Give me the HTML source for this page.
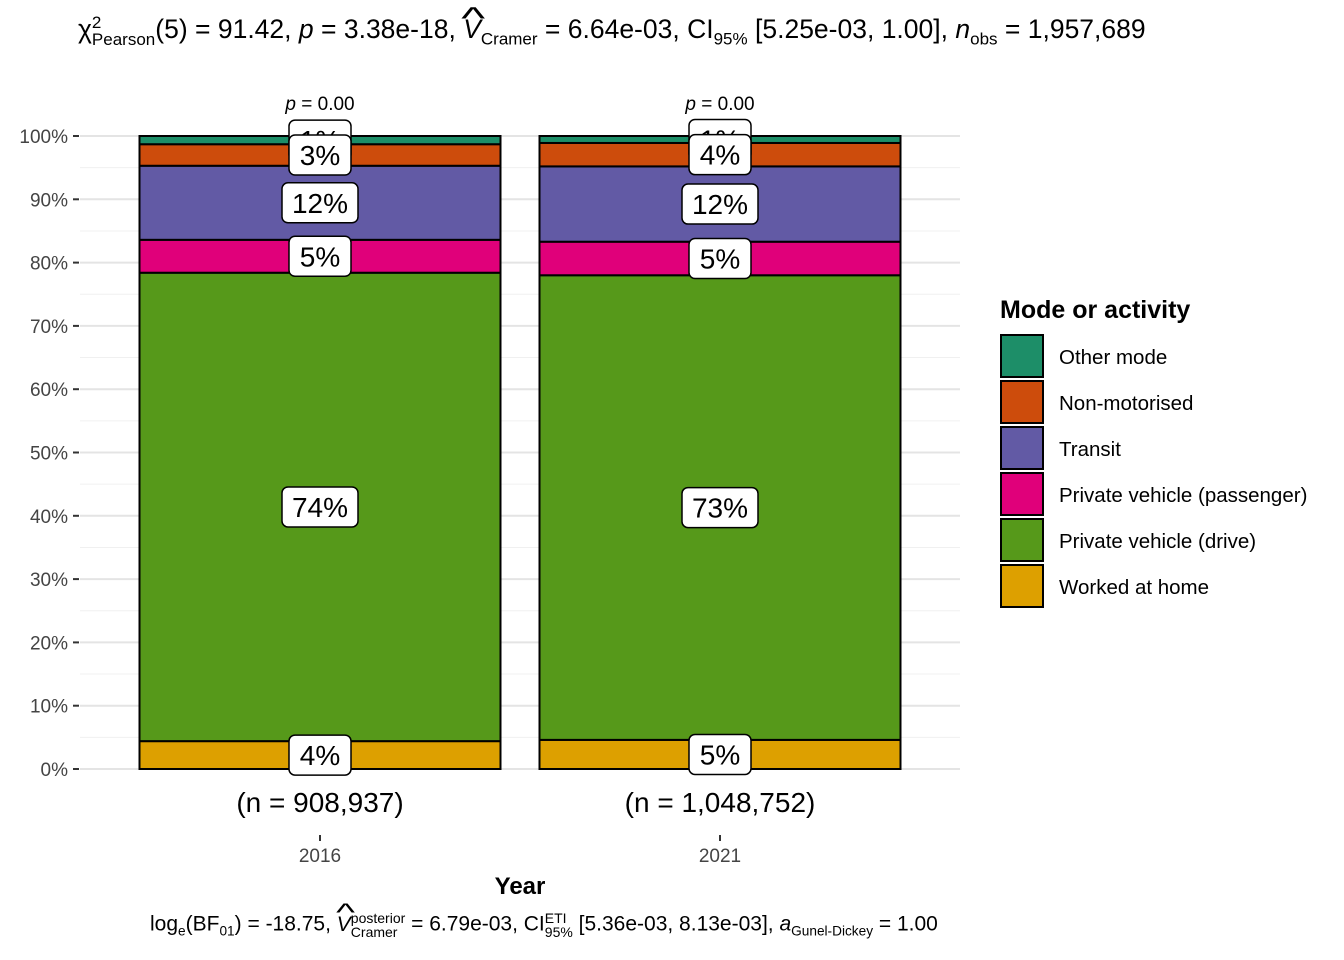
<!DOCTYPE html>
<html><head><meta charset="utf-8"><style>
body{margin:0;background:#fff;font-family:"Liberation Sans",Arial,sans-serif;}
#wrap{position:relative;width:1344px;height:960px;overflow:hidden}
.t{position:absolute;white-space:nowrap;color:#000}
sub,sup{font-size:65%}
.hat{position:relative;display:inline-block}
.hat:before{content:"^";position:absolute;left:2px;top:-14px;font-size:120%;transform:scaleX(1.6)}
</style></head><body>
<div id="wrap">
<div class="t" style="left:78px;top:14px;font-size:26.5px">χ<span style="display:inline-block;vertical-align:middle;font-size:17px;line-height:17px;text-align:left"><span style="display:block">2</span><span style="display:block">Pearson</span></span>(5) = 91.42, <i>p</i> = 3.38e-18, <i class="hat">V</i><sub style="font-size:17px">Cramer</sub> = 6.64e-03, CI<sub style="font-size:17px">95%</sub> [5.25e-03, 1.00], <i>n</i><sub style="font-size:17px">obs</sub> = 1,957,689</div>
<svg id="svg" width="1344" height="960" style="position:absolute;left:0;top:0"></svg>
<div class="t" style="left:150px;top:911px;font-size:21px">log<sub>e</sub>(BF<sub>01</sub>) = -18.75, <i class="hat">V</i><span style="display:inline-block;vertical-align:middle;font-size:14px;line-height:14px;text-align:left"><span style="display:block">posterior</span><span style="display:block">Cramer</span></span> = 6.79e-03, CI<span style="display:inline-block;vertical-align:middle;font-size:14px;line-height:14px"><span style="display:block">ETI</span><span style="display:block">95%</span></span> [5.36e-03, 8.13e-03], <i>a</i><sub>Gunel-Dickey</sub> = 1.00</div>
</div>
<script>
const years=["2016","2021"];
const ns=["(n = 908,937)","(n = 1,048,752)"];
const modes=["Worked at home","Private vehicle (drive)","Private vehicle (passenger)","Transit","Non-motorised","Other mode"];
const fills=["#DDA000","#56991A","#E0007A","#625AA5","#CD4C0C","#1D8E68"];
const v2016=[4.4,74.0,5.2,11.7,3.4,1.3];
const v2021=[4.6,73.4,5.3,11.9,3.7,1.1];
const series=[v2016,v2021];
const yTicks=[0,10,20,30,40,50,60,70,80,90,100];
const NS="http://www.w3.org/2000/svg";
const svg=document.getElementById('svg');
const y=p=>769-p*6.33;
const xc=[320,720],bw=361;
function el(t,a,txt){const e=document.createElementNS(NS,t);for(const k in a)e.setAttribute(k,a[k]);if(txt!=null)e.textContent=txt;svg.appendChild(e);return e;}
for(let p=0;p<=100;p+=5){const g=el('line',{x1:80,x2:960,y1:y(p),y2:y(p),stroke:p%10?'#f0f0f0':'#e4e4e4','stroke-width':p%10?1:2});}
yTicks.forEach(t=>{const l=el('line',{x1:73,x2:79,y1:y(t),y2:y(t),stroke:'#333','stroke-width':2});
const tx=el('text',{x:68,y:y(t)+7,'text-anchor':'end','font-size':19,fill:'#444'},t+'%');});
series.forEach((vals,i)=>{let cum=0;const labs=[];
vals.forEach((v,j)=>{const r=el('rect',{x:xc[i]-bw/2,y:y(cum+v),width:bw,height:v*6.33,fill:fills[j],stroke:'#000','stroke-width':2});labs.push([cum+v/2,Math.round(v)+'%']);cum+=v;});
labs.reverse().forEach(([m,s])=>{const w=s.length>2?76:62;const ry=y(m);
const b=el('rect',{x:xc[i]-w/2,y:ry-20,width:w,height:40,rx:6,fill:'#fff',stroke:'#000','stroke-width':1.5});
const t=el('text',{x:xc[i],y:ry+10,'text-anchor':'middle','font-size':28},s);});
const p=el('text',{x:xc[i],y:110,'text-anchor':'middle','font-size':19},'');p.innerHTML='<tspan font-style="italic">p</tspan> = 0.00';
const n=el('text',{x:xc[i],y:812,'text-anchor':'middle','font-size':28},ns[i]);
const tk=el('line',{x1:xc[i],x2:xc[i],y1:835,y2:841,stroke:'#333','stroke-width':2});
const xl=el('text',{x:xc[i],y:862,'text-anchor':'middle','font-size':19,fill:'#444'},years[i]);});
const xt=el('text',{x:520,y:894,'text-anchor':'middle','font-size':24,'font-weight':'bold'},'Year');
const lt=el('text',{x:1000,y:318,'font-size':25,'font-weight':'bold'},'Mode or activity');
modes.slice().reverse().forEach((m,k)=>{const j=modes.length-1-k;const yy=335+k*46;
const r=el('rect',{x:1001,y:yy,width:42,height:42,fill:fills[j],stroke:'#000','stroke-width':2});
const t=el('text',{x:1059,y:yy+29,'font-size':20.5},m);});
</script>
</body></html>
